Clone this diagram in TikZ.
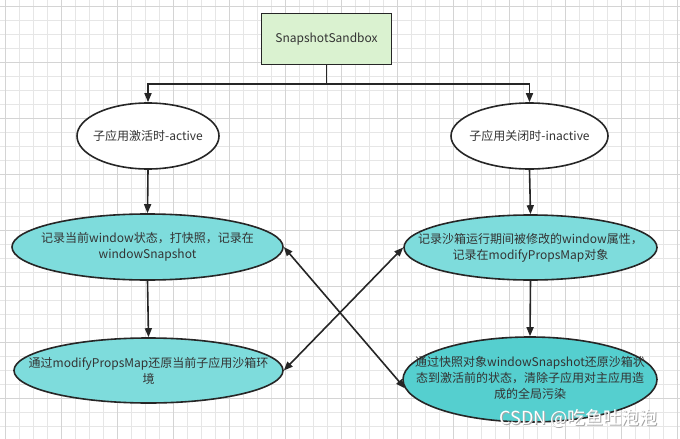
\documentclass[tikz,border=0pt]{standalone}
\usepackage{fontspec}
\setmainfont{Noto Sans CJK SC}
\usetikzlibrary{shapes.geometric,arrows.meta}
\definecolor{gridminor}{HTML}{E6E6E6}
\definecolor{gridmajor}{HTML}{D4D4D4}
\definecolor{boxgreen}{HTML}{DAF2D0}
\definecolor{tealA}{HTML}{7EDCDC}
\definecolor{tealB}{HTML}{55CFCF}
\definecolor{linec}{HTML}{262626}
\definecolor{txt}{HTML}{333333}
\tikzset{
  shapeline/.style={draw=linec, line width=1.6pt},
  rootbox/.style={shapeline, rectangle, fill=boxgreen, minimum width=130pt, minimum height=51pt, inner sep=0pt, font=\fontsize{12pt}{16pt}\selectfont, text=txt},
  phase/.style={shapeline, ellipse, fill=white, inner sep=0pt},
  action/.style={shapeline, ellipse, fill=tealA, inner sep=0pt},
  label text/.style={inner sep=0pt, align=center, font=\fontsize{12pt}{16pt}\selectfont, text=txt},
  conn/.style={draw=linec, line width=1.6pt},
  arr/.style={conn, -{Triangle[length=9pt,width=7pt]}},
  darr/.style={conn, {Triangle[length=9pt,width=7pt]}-{Triangle[length=9pt,width=7pt]}}
}
\begin{document}
\begin{tikzpicture}[x=1pt,y=-1pt]
\useasboundingbox (0,0) rectangle (680,439);
\fill[white] (0,0) rectangle (680,439);
% grid
\foreach \gx in {5,19,...,680} \draw[gridminor, line width=0.7pt] (\gx,0) -- (\gx,439);
\foreach \gy in {6,20,...,439} \draw[gridminor, line width=0.7pt] (0,\gy) -- (680,\gy);
\foreach \gx in {5,61,...,680} \draw[gridmajor, line width=1pt] (\gx,0) -- (\gx,439);
\foreach \gy in {6,62,...,439} \draw[gridmajor, line width=1pt] (0,\gy) -- (680,\gy);

\node[rootbox] (root) at (326.5,39) {SnapshotSandbox};
\node[phase, minimum width=142pt, minimum height=66pt] (act) at (148,136) {};
\node[label text] (actT) at (act.center) {子应用激活时-active};
\node[phase, minimum width=157pt, minimum height=66pt] (inact) at (529.5,136) {};
\node[label text] (inactT) at (inact.center) {子应用关闭时-inactive};

\node[action, minimum width=271pt, minimum height=66pt] (snap) at (147.5,247) {};
\node[label text] (snapT) at (snap.center) {记录当前window状态，打快照，记录在\\windowSnapshot};
\node[action, minimum width=253pt, minimum height=65pt] (rec) at (530.5,247.5) {};
\node[label text] (recT) at (rec.center) {记录沙箱运行期间被修改的window属性，\\记录在modifyPropsMap对象};
\node[action, minimum width=269pt, minimum height=65pt] (restore) at (148.5,370.5) {};
\node[label text] (restoreT) at (restore.center) {通过modifyPropsMap还原当前子应用沙箱环\\境};
\node[action, fill=tealB, minimum width=254pt, minimum height=85pt] (clean) at (530,379.5) {};
\node[label text] (cleanT) at ([yshift=2pt]clean.center) {通过快照对象windowSnapshot还原沙箱状\\态到激活前的状态，清除子应用对主应用造\\成的全局污染};

\coordinate (split) at (326.5,84);
\draw[conn] (root.south) -- (split);
\draw[arr] (split) -| (act.north);
\draw[arr] (split) -| (inact.north);
\draw[arr] (act.south) -- (snap.north);
\draw[arr] (inact.south) -- (rec.north);
\draw[arr] (snap.south) -- (restore.north);
\draw[arr] (rec.south) -- (clean.north);
\draw[darr] (snap.east) -- (clean.184);
\draw[darr] (rec.west) -- (restore.east);

\node[font=\fontsize{18pt}{20pt}\selectfont, text=gray!70] (wm0) at (579.5,419.5) {CSDN @吃鱼吐泡泡};
\node[font=\fontsize{18pt}{20pt}\selectfont, text=white] (wm) at (578.5,418.5) {CSDN @吃鱼吐泡泡};
\end{tikzpicture}
\end{document}
